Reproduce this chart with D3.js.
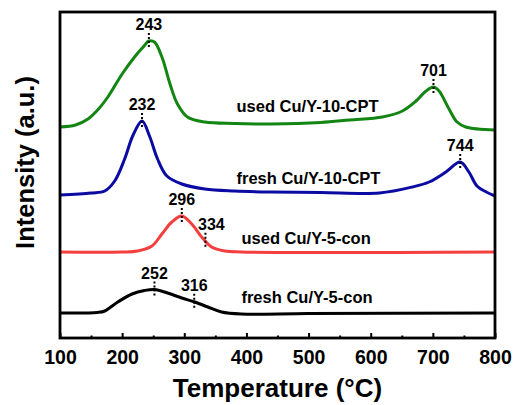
<!DOCTYPE html>
<html>
<head>
<meta charset="utf-8">
<script src="https://cdn.jsdelivr.net/npm/d3@7"></script>
<style>
  html, body { margin: 0; padding: 0; background: #fff; }
  svg { display: block; font-family: "Liberation Sans", Arial, sans-serif; font-weight: bold; }
</style>
</head>
<body>
<svg id="chart" width="513" height="405"></svg>
<script>
// TPR profiles (intensity in arbitrary units) vs temperature
const usedCPT_T = [100,125,145,162,177,200,220,234,243,252,264,277,289,305,333,381,440,520,566,619,651,673,689,701,710,726,739,753,800];
const usedCPT_I = [211,213,219,229,241,264,281,291,297,296,281,254,234,221,216,214.5,214,215.5,218,221,227,237,247,251,247,229,216,211,208];

const freshCPT_T = [100,150,172,188,204,217,232,244,257,272,296,333,381,440,520,614,667,694,721,744,758,771,786,800];
const freshCPT_I = [143,145,147,157,179,202,217,202,179,162,154,149,147,146,145.5,145,151,156,166,176,166,152,146,142];

const usedCon_T = [100,200,225,248,264,280,296,312,328,344,365,392,800];
const usedCon_I = [86,86,87,92,104,116,122,114,101,91,87,86,86];

const freshCon_T = [100,160,172,193,216,236,252,273,296,317,338,360,392,500,800];
const freshCon_I = [25,25.5,27,36,44,47.5,48.5,45,40,36,31,26,24,24.5,25];

const seriesNames = ["used Cu/Y-10-CPT", "fresh Cu/Y-10-CPT", "used Cu/Y-5-con", "fresh Cu/Y-5-con"];
const seriesColors = ["#138513", "#0b0ba3", "#f53f3f", "#000000"];

// marked peak temperatures per series
const peakSeries = [0, 0, 1, 1, 2, 2, 3, 3];
const peakTemps  = [243, 701, 232, 744, 296, 334, 252, 316];

const xTicks = [100, 200, 300, 400, 500, 600, 700, 800];
const xMinorTicks = [150, 250, 350, 450, 550, 650, 750];

const series = [
  {T: usedCPT_T, I: usedCPT_I},
  {T: freshCPT_T, I: freshCPT_I},
  {T: usedCon_T, I: usedCon_I},
  {T: freshCon_T, I: freshCon_I}
];

const svg = d3.select("#chart");
const pLeft = 60, pRight = 495, pTop = 12, pBottom = 338;

const x = d3.scaleLinear().domain([100, 800]).range([pLeft, pRight]);
const y = d3.scaleLinear().domain([0, 326]).range([pBottom, pTop]);

const line = d3.line()
  .x(d => x(d[0]))
  .y(d => y(d[1]))
  .curve(d3.curveCatmullRom.alpha(0.5));

svg.append("clipPath").attr("id", "plotclip")
  .append("rect").attr("x", pLeft).attr("y", pTop).attr("width", pRight - pLeft).attr("height", pBottom - pTop);

// curves
series.forEach((s, i) => {
  const pts = s.T.map((t, k) => [t, s.I[k]]);
  svg.append("path")
    .datum(pts)
    .attr("d", line)
    .attr("fill", "none")
    .attr("stroke", seriesColors[i])
    .attr("stroke-width", 3)
    .attr("stroke-linejoin", "round")
    .attr("clip-path", "url(#plotclip)");
});

// value of a series at a temperature (linear between samples)
function valueAt(si, t) {
  const s = series[si];
  const idx = s.T.indexOf(t);
  if (idx >= 0) return s.I[idx];
  const b = d3.bisectLeft(s.T, t);
  const t0 = s.T[b - 1], t1 = s.T[b];
  const f = (t - t0) / (t1 - t0);
  return s.I[b - 1] + f * (s.I[b] - s.I[b - 1]);
}

// peak markers: dotted vertical line plus temperature label
peakTemps.forEach((t, k) => {
  const px = x(t);
  const py = y(valueAt(peakSeries[k], t));
  svg.append("line")
    .attr("x1", px).attr("x2", px)
    .attr("y1", py - 8).attr("y2", py + 8)
    .attr("stroke", "#000")
    .attr("stroke-width", 2)
    .attr("stroke-dasharray", "2,2");
  svg.append("text")
    .attr("x", px + (t === 334 ? 6 : 0))
    .attr("y", py - 11)
    .attr("text-anchor", "middle")
    .attr("font-size", 16)
    .text(t);
});

// series labels
const labelPos = [[384, 226], [384, 154], [392, 94], [392, 35]];
seriesNames.forEach((name, i) => {
  svg.append("text")
    .attr("x", x(labelPos[i][0]))
    .attr("y", y(labelPos[i][1]))
    .attr("font-size", 16.5)
    .attr("fill", "#000")
    .text(name);
});

// bottom axis with inward ticks
const xAxis = svg.append("g").attr("transform", `translate(0,${pBottom})`)
  .call(d3.axisBottom(x).tickValues(xTicks).tickSize(-5).tickPadding(10).tickFormat(d3.format("d")));
xAxis.select(".domain").remove();
xAxis.selectAll(".tick line").attr("stroke", "#000").attr("stroke-width", 2);
xAxis.selectAll(".tick text")
  .attr("font-family", "'Liberation Sans', Arial, sans-serif")
  .attr("font-weight", "bold")
  .attr("font-size", 19.5)
  .attr("fill", "#000")
  .attr("dy", "0.35em")
  .attr("y", 19);

const xMinor = svg.append("g").attr("transform", `translate(0,${pBottom})`)
  .call(d3.axisBottom(x).tickValues(xMinorTicks).tickSize(-2.5).tickFormat(""));
xMinor.select(".domain").remove();
xMinor.selectAll(".tick line").attr("stroke", "#000").attr("stroke-width", 2);

// frame
svg.append("rect")
  .attr("x", pLeft).attr("y", pTop)
  .attr("width", pRight - pLeft).attr("height", pBottom - pTop)
  .attr("fill", "none")
  .attr("stroke", "#000")
  .attr("stroke-width", 2.8);

// axis titles
svg.append("text")
  .attr("x", (pLeft + pRight) / 2)
  .attr("y", 397)
  .attr("text-anchor", "middle")
  .attr("font-size", 26)
  .text("Temperature (°C)");

svg.append("text")
  .attr("transform", `translate(34,${(75 + 250) / 2}) rotate(-90)`)
  .attr("text-anchor", "middle")
  .attr("font-size", 25.5)
  .text("Intensity (a.u.)");
</script>
</body>
</html>
